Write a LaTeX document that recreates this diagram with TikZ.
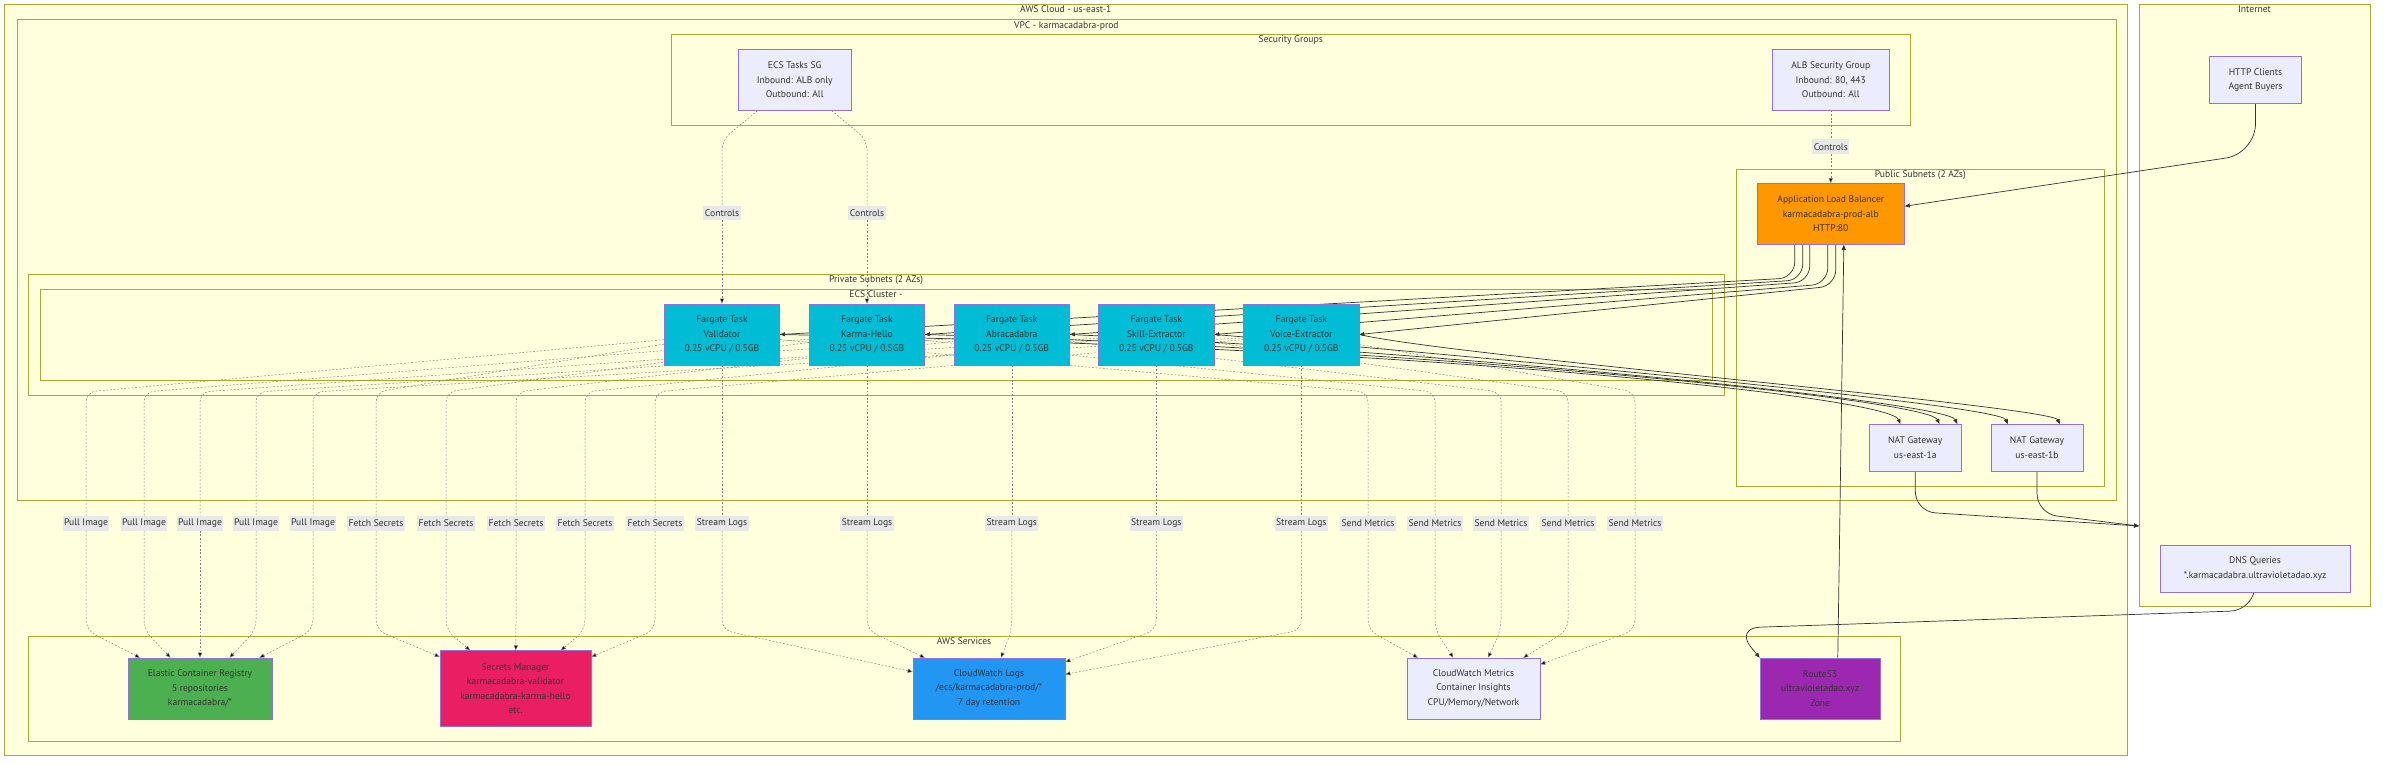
\documentclass[tikz,border=0pt]{standalone}
\usepackage{fontspec}
\setmainfont{PT Sans}
\usetikzlibrary{arrows.meta,calc}
\pgfdeclarelayer{grouplayer}
\pgfdeclarelayer{edgelayer}
\pgfsetlayers{grouplayer,edgelayer,main}
\definecolor{grpfill}{HTML}{FFFFDE}
\definecolor{grpline}{HTML}{AAAA33}
\definecolor{boxfill}{HTML}{ECECFF}
\definecolor{boxline}{HTML}{9370DB}
\definecolor{txt}{HTML}{333333}
\definecolor{taskcol}{HTML}{00BCD4}
\definecolor{albcol}{HTML}{FF9800}
\definecolor{ecrcol}{HTML}{4CAF50}
\definecolor{seccol}{HTML}{E91E63}
\definecolor{logcol}{HTML}{2196F3}
\definecolor{r53col}{HTML}{9C27B0}
\definecolor{lblfill}{HTML}{E8E8E8}
\tikzset{font=\fontsize{9.6}{14.4}\selectfont}
\tikzstyle{grp}=[draw=grpline,fill=grpfill,line width=0.7pt,inner sep=0pt]
\tikzstyle{grptitle}=[anchor=north,inner sep=2pt,text=txt]
\tikzstyle{box}=[draw=boxline,fill=boxfill,line width=0.6pt,align=center,text=txt,minimum height=61pt]
\tikzstyle{task}=[box,fill=taskcol,minimum width=115.5pt]
\tikzstyle{small}=[minimum height=47pt]
\tikzstyle{lbl}=[fill=lblfill,text=txt,inner sep=1.5pt,minimum height=14.5pt]
\tikzstyle{flow}=[draw=black!80,line width=0.7pt,->]
\tikzstyle{dep}=[draw=black!50,line width=0.5pt,dash pattern=on 1.8pt off 1.8pt,rounded corners=10pt]
\tikzset{bendto/.style={to path={-- (\tikztotarget |- 0,#1) -- (\tikztotarget) \tikztonodes}},
bendfrom/.style={to path={-- (\tikztostart |- 0,#1) -- (\tikztotarget) \tikztonodes}}}

\begin{document}
\begin{tikzpicture}[x=1pt,y=-1pt,>={Stealth[length=5pt,width=4pt,inset=0pt]}]
\useasboundingbox (0,0) rectangle (2384,764);
% groups
\begin{pgfonlayer}{grouplayer}
\fill[white] (0,0) rectangle (2384,764);
\node[grp,minimum width=2122.5pt,minimum height=751.6pt,label={[grptitle]north:AWS Cloud - us-east-1}] (aws) at (1065.8,379.8) {};
\node[grp,minimum width=2099pt,minimum height=480.7pt,label={[grptitle]north:VPC - karmacadabra-prod}] (vpc) at (1066.4,259.7) {};
\node[grp,minimum width=1239.5pt,minimum height=91.3pt,label={[grptitle]north:Security Groups}] (sg) at (1290.75,79.65) {};
\node[grp,minimum width=367.5pt,minimum height=317pt,label={[grptitle]north:Public Subnets (2 AZs)}] (pub) at (1920.25,327.5) {};
\node[grp,minimum width=1696pt,minimum height=121pt,label={[grptitle]north:Private Subnets (2 AZs)}] (priv) at (876,334.5) {};
\node[grp,minimum width=1672pt,minimum height=91pt,label={[grptitle]north:ECS Cluster -}] (ecs) at (876,334.5) {};
\node[grp,minimum width=1872pt,minimum height=105pt,label={[grptitle]north:AWS Services}] (svc) at (964,688.5) {};
\node[grp,minimum width=231pt,minimum height=602.7pt,label={[grptitle]north:Internet}] (inet) at (2254.5,305.3) {};
\end{pgfonlayer}
% nodes
\node[box,minimum width=112.5pt] (ecssg) at (794.75,79.8) {ECS Tasks SG\\Inbound: ALB only\\Outbound: All};
\node[box,minimum width=117.5pt] (albsg) at (1830.75,79.7) {ALB Security Group\\Inbound: 80, 443\\Outbound: All};
\node[box,small,minimum width=92pt] (clients) at (2255.5,79.8) {HTTP Clients\\Agent Buyers};
\node[box,fill=albcol,minimum width=147.5pt] (alb) at (1830.75,214) {Application Load Balancer\\karmacadabra-prod-alb\\HTTP:80};
\node[task] (validator) at (722,334.5) {Fargate Task\\Validator\\0.25 vCPU / 0.5GB};
\node[task] (karma) at (867,334.5) {Fargate Task\\Karma-Hello\\0.25 vCPU / 0.5GB};
\node[task] (abra) at (1011.75,334.5) {Fargate Task\\Abracadabra\\0.25 vCPU / 0.5GB};
\node[task] (skill) at (1156.3,334.5) {Fargate Task\\Skill-Extractor\\0.25 vCPU / 0.5GB};
\node[task] (voice) at (1301.3,334.5) {Fargate Task\\Voice-Extractor\\0.25 vCPU / 0.5GB};
\node[box,small,minimum width=92.6pt] (nata) at (1915.3,447.8) {NAT Gateway\\us-east-1a};
\node[box,small,minimum width=92pt] (natb) at (2037,447.8) {NAT Gateway\\us-east-1b};
\node[box,small,minimum width=190pt] (dns) at (2255,568.5) {DNS Queries\\*.karmacadabra.ultravioletadao.xyz};
\node[box,fill=ecrcol,minimum width=144pt] (ecr) at (200,688.5) {Elastic Container Registry\\5 repositories\\karmacadabra/*};
\node[box,fill=seccol,minimum width=151pt,minimum height=76pt] (secrets) at (515.5,688.7) {Secrets Manager\\karmacadabra-validator\\karmacadabra-karma-hello\\etc.};
\node[box,fill=logcol,minimum width=152pt] (cwlogs) at (989,688.5) {CloudWatch Logs\\/ecs/karmacadabra-prod/*\\7 day retention};
\node[box,minimum width=133pt] (cwmetrics) at (1473.5,688.5) {CloudWatch Metrics\\Container Insights\\CPU/Memory/Network};
\node[box,fill=r53col,minimum width=120pt] (route53) at (1820,688.5) {Route53\\ultravioletadao.xyz\\Zone};
% edge labels
\node[lbl] (ctl1) at (722,213) {Controls};
\node[lbl] (ctl2) at (867,213) {Controls};
\node[lbl] (ctl3) at (1830.75,146.7) {Controls};
\node[lbl] (pull1) at (86,523.3) {Pull Image};
\node[lbl] (pull2) at (144,523.3) {Pull Image};
\node[lbl] (pull3) at (200,523.3) {Pull Image};
\node[lbl] (pull4) at (256,523.3) {Pull Image};
\node[lbl] (pull5) at (313,523.3) {Pull Image};
\node[lbl] (fetch1) at (376,523.3) {Fetch Secrets};
\node[lbl] (fetch2) at (446,523.3) {Fetch Secrets};
\node[lbl] (fetch3) at (516,523.3) {Fetch Secrets};
\node[lbl] (fetch4) at (585,523.3) {Fetch Secrets};
\node[lbl] (fetch5) at (655,523.3) {Fetch Secrets};
\node[lbl] (logs1) at (722,523.3) {Stream Logs};
\node[lbl] (logs2) at (867,523.3) {Stream Logs};
\node[lbl] (logs3) at (1011.75,523.3) {Stream Logs};
\node[lbl] (logs4) at (1156.3,523.3) {Stream Logs};
\node[lbl] (logs5) at (1301.3,523.3) {Stream Logs};
\node[lbl] (metr1) at (1368,523.3) {Send Metrics};
\node[lbl] (metr2) at (1435,523.3) {Send Metrics};
\node[lbl] (metr3) at (1501,523.3) {Send Metrics};
\node[lbl] (metr4) at (1568,523.3) {Send Metrics};
\node[lbl] (metr5) at (1635,523.3) {Send Metrics};
\coordinate (inetin) at (2139,526);
% connectors
\begin{pgfonlayer}{edgelayer}
\path[dep]
(ecssg) edge[bendto=140] (ctl1)
(ecssg) edge[bendto=140] (ctl2)
(ctl1) edge[->] (validator)
(ctl2) edge[->] (karma)
(albsg) edge (ctl3)
(ctl3) edge[->] (alb)
(validator) edge[bendto=392] (pull1)
(karma) edge[bendto=392] (pull2)
(abra) edge[bendto=392] (pull3)
(skill) edge[bendto=392] (pull4)
(voice) edge[bendto=392] (pull5)
(validator) edge[bendto=392] (fetch1)
(karma) edge[bendto=392] (fetch2)
(abra) edge[bendto=392] (fetch3)
(skill) edge[bendto=392] (fetch4)
(voice) edge[bendto=392] (fetch5)
(validator) edge (logs1)
(karma) edge (logs2)
(abra) edge (logs3)
(skill) edge (logs4)
(voice) edge (logs5)
(validator) edge[bendto=392] (metr1)
(karma) edge[bendto=392] (metr2)
(abra) edge[bendto=392] (metr3)
(skill) edge[bendto=392] (metr4)
(voice) edge[bendto=392] (metr5)
(pull1) edge[->,bendfrom=630] (ecr)
(pull2) edge[->,bendfrom=630] (ecr)
(pull3) edge[->,bendfrom=630] (ecr)
(pull4) edge[->,bendfrom=630] (ecr)
(pull5) edge[->,bendfrom=630] (ecr)
(fetch1) edge[->,bendfrom=630] (secrets)
(fetch2) edge[->,bendfrom=630] (secrets)
(fetch3) edge[->,bendfrom=630] (secrets)
(fetch4) edge[->,bendfrom=630] (secrets)
(fetch5) edge[->,bendfrom=630] (secrets)
(logs1) edge[->,bendfrom=630] (cwlogs)
(logs2) edge[->,bendfrom=630] (cwlogs)
(logs3) edge[->,bendfrom=630] (cwlogs)
(logs4) edge[->,bendfrom=630] (cwlogs)
(logs5) edge[->,bendfrom=630] (cwlogs)
(metr1) edge[->,bendfrom=630] (cwmetrics)
(metr2) edge[->,bendfrom=630] (cwmetrics)
(metr3) edge[->,bendfrom=630] (cwmetrics)
(metr4) edge[->,bendfrom=630] (cwmetrics)
(metr5) edge[->,bendfrom=630] (cwmetrics);
\draw[flow,rounded corners=30pt] (clients.south) -- ++(0,50) -- (alb.6);
\draw[flow,rounded corners=16pt] ($(alb.south)+(-36,0)$) -- ++(0,33) -- (validator.east);
\draw[flow,rounded corners=16pt] ($(alb.south)+(-28,0)$) -- ++(0,35) -- (karma.east);
\draw[flow,rounded corners=16pt] ($(alb.south)+(-21,0)$) -- ++(0,37) -- (abra.east);
\draw[flow,rounded corners=16pt] ($(alb.south)+(-3,0)$) -- ++(0,39) -- (skill.east);
\draw[flow,rounded corners=16pt] ($(alb.south)+(5,0)$) -- ++(0,41) -- (voice.east);
\draw[flow] (validator.east) .. controls (1450,348) and (1890,398) .. ($(nata.north)+(-15,0)$);
\draw[flow] (karma.east) .. controls (1450,350) and (1929,400) .. ($(nata.north)+(24,0)$);
\draw[flow] (abra.east) .. controls (1450,352) and (1947,402) .. ($(nata.north)+(42,0)$);
\draw[flow] (skill.east) .. controls (1450,354) and (1998,404) .. ($(natb.north)+(-29,0)$);
\draw[flow] (voice.east) .. controls (1450,356) and (2050,406) .. ($(natb.north)+(23,0)$);
\draw[flow,rounded corners=20pt] (nata.south) -- ++(0,40) -- (inetin);
\draw[flow,rounded corners=20pt] (natb.south) -- ++(0,42) -- (inetin);
\draw[flow,rounded corners=25pt] (dns.south) -- ++(0,18) -- (1735,628) -- (route53.north west);
\draw[flow] (route53.60) -- (alb.-67);
\end{pgfonlayer}
\end{tikzpicture}
\end{document}
